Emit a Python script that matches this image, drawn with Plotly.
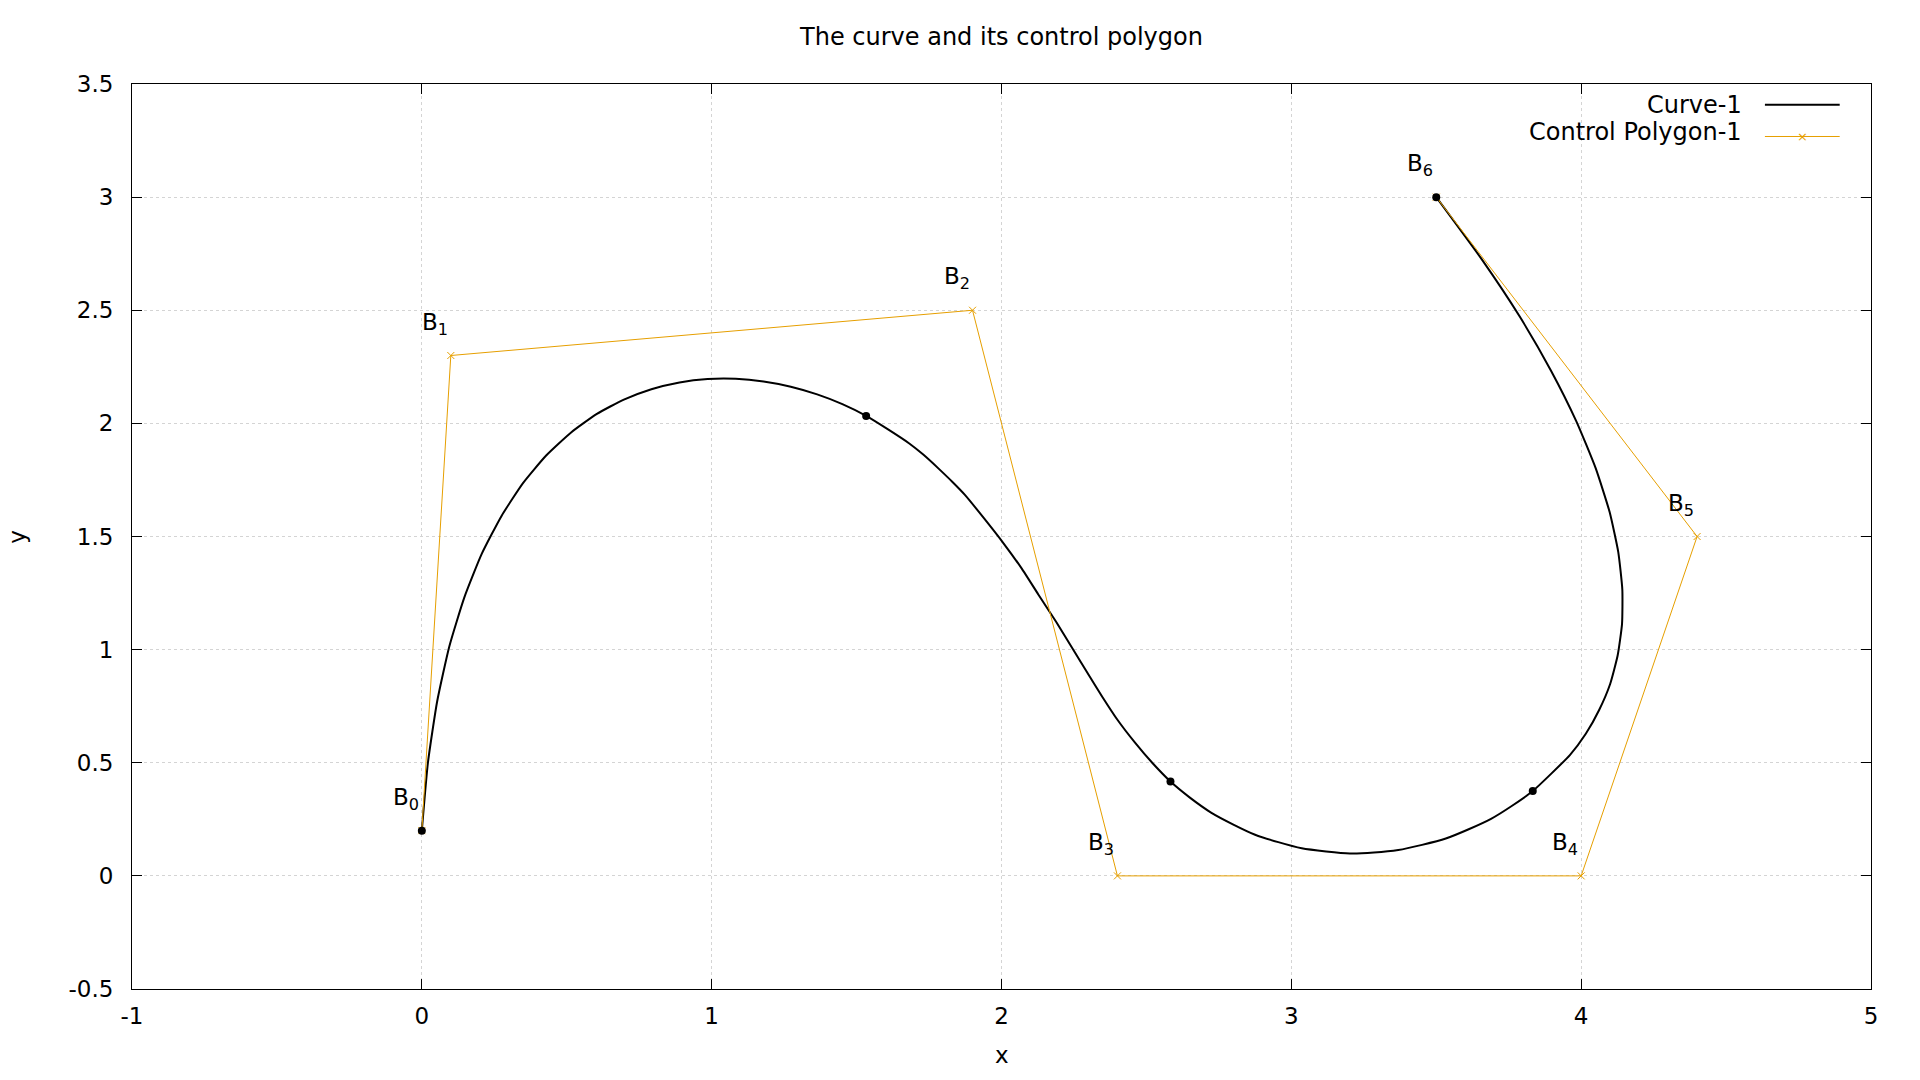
import plotly.graph_objects as go

# ---- data ----
ctrl_x = [0.0, 0.1, 1.9, 2.4, 4.0, 4.4, 3.5]
ctrl_y = [0.2, 2.3, 2.5, 0.0, 0.0, 1.5, 3.0]
ctrl_labels = ["B<sub>0</sub>", "B<sub>1</sub>", "B<sub>2</sub>", "B<sub>3</sub>",
               "B<sub>4</sub>", "B<sub>5</sub>", "B<sub>6</sub>"]

knot_x = [0.0, 1.533, 2.583, 3.833, 3.5]
knot_y = [0.2, 2.033, 0.417, 0.375, 3.0]

curve_x = [0.000, 0.021, 0.053, 0.095, 0.147, 0.207, 0.275, 0.349, 0.429, 0.515,
           0.604, 0.697, 0.792, 0.889, 0.986, 1.083, 1.179, 1.273, 1.364, 1.451,
           1.533, 1.610, 1.683, 1.730, 1.783, 1.830, 1.873, 1.940, 2.007, 2.070,
           2.127, 2.190, 2.245, 2.300, 2.347, 2.400, 2.460, 2.520, 2.583, 2.650,
           2.723, 2.800, 2.875, 2.955, 3.036, 3.120, 3.202, 3.285, 3.369, 3.451,
           3.533, 3.612, 3.689, 3.763, 3.833, 3.961, 4.016, 4.062, 4.100, 4.126,
           4.141, 4.142, 4.128, 4.098, 4.050, 3.983, 3.896, 3.788, 3.656, 3.500]
curve_y = [0.200, 0.500, 0.772, 1.015, 1.232, 1.424, 1.591, 1.736, 1.858, 1.960,
           2.042, 2.105, 2.151, 2.181, 2.196, 2.197, 2.185, 2.162, 2.128, 2.085,
           2.033, 1.972, 1.910, 1.862, 1.800, 1.742, 1.685, 1.580, 1.470, 1.358,
           1.244, 1.120, 1.005, 0.890, 0.793, 0.690, 0.590, 0.500, 0.417, 0.346,
           0.280, 0.227, 0.182, 0.149, 0.122, 0.108, 0.099, 0.103, 0.114, 0.137,
           0.165, 0.206, 0.252, 0.311, 0.375, 0.534, 0.628, 0.733, 0.848, 0.975,
           1.114, 1.266, 1.431, 1.609, 1.802, 2.010, 2.233, 2.472, 2.727, 3.000]

x_tick_vals = [-1, 0, 1, 2, 3, 4, 5]
x_tick_labels = ["-1", "0", "1", "2", "3", "4", "5"]
y_tick_vals = [-0.5, 0, 0.5, 1, 1.5, 2, 2.5, 3, 3.5]
y_tick_labels = ["-0.5", "0", "0.5", "1", "1.5", "2", "2.5", "3", "3.5"]

series_names = ["Curve-1", "Control Polygon-1"]
title_text = "The curve and its control polygon"

ORANGE = "#e69f00"
FONT = "DejaVu Sans"
FS = 23
FS_BIG = 24

fig = go.Figure()
fig.add_trace(go.Scatter(x=curve_x, y=curve_y, mode="lines", name=series_names[0],
                         line=dict(color="black", width=2, shape="spline", smoothing=0.5)))
fig.add_trace(go.Scatter(x=ctrl_x, y=ctrl_y, mode="lines+markers", name=series_names[1],
                         line=dict(color=ORANGE, width=1),
                         marker=dict(symbol="x-thin", size=7,
                                     line=dict(color=ORANGE, width=1), color=ORANGE)))
fig.add_trace(go.Scatter(x=knot_x, y=knot_y, mode="markers", showlegend=False,
                         marker=dict(color="black", size=8)))

for lx, ly, lt in zip(ctrl_x, ctrl_y, ctrl_labels):
    fig.add_annotation(x=lx, y=ly, text=lt, showarrow=False, xref="x", yref="y",
                       xshift=-16, yshift=32, font=dict(size=23, color="black", family=FONT))

axis_common = dict(showline=True, linecolor="black", linewidth=1, mirror="ticks",
                   ticks="inside", ticklen=10, tickcolor="black", tickwidth=1,
                   showgrid=True, gridcolor="#d4d4d4", gridwidth=1, griddash="3px,3px",
                   zeroline=False, tickfont=dict(size=FS, color="black", family=FONT))
fig.update_xaxes(range=[-1, 5], tickvals=x_tick_vals, ticktext=x_tick_labels,
                 ticklabelstandoff=6, **axis_common)
fig.update_yaxes(range=[-0.5, 3.5], tickvals=y_tick_vals, ticktext=y_tick_labels,
                 ticklabelstandoff=13, **axis_common)

# axis titles
fig.add_annotation(x=0.5, y=-0.073, xref="paper", yref="paper", text="x", showarrow=False,
                   font=dict(size=FS, color="black", family=FONT), yanchor="middle")
fig.add_annotation(x=-0.0665, y=0.5, xref="paper", yref="paper", text="y", showarrow=False,
                   textangle=-90, font=dict(size=FS, color="black", family=FONT), xanchor="center")

# gnuplot-style legend (text left, sample right)
fig.add_annotation(x=0.927, y=0.977, xref="paper", yref="paper", text=series_names[0],
                   showarrow=False, xanchor="right", yanchor="middle",
                   font=dict(size=FS_BIG, color="black", family=FONT))
fig.add_annotation(x=0.927, y=0.947, xref="paper", yref="paper", text=series_names[1],
                   showarrow=False, xanchor="right", yanchor="middle",
                   font=dict(size=FS_BIG, color="black", family=FONT))
fig.add_shape(type="line", xref="paper", yref="paper", x0=0.939, x1=0.982, y0=0.977, y1=0.977,
              line=dict(color="black", width=2))
fig.add_shape(type="line", xref="paper", yref="paper", x0=0.939, x1=0.982, y0=0.942, y1=0.942,
              line=dict(color=ORANGE, width=1))
fig.add_annotation(x=0.9605, y=0.942, xref="paper", yref="paper", text="×", showarrow=False,
                   xanchor="center", yanchor="middle", font=dict(size=13, color=ORANGE, family=FONT))

fig.update_layout(
    width=1920, height=1080,
    margin=dict(l=132, r=49, t=84, b=91),
    plot_bgcolor="white", paper_bgcolor="white",
    showlegend=False,
    title=dict(text=title_text, xref="paper", x=0.5, xanchor="center",
               yref="container", y=0.966, yanchor="middle",
               font=dict(size=FS_BIG, color="black", family=FONT)),
    font=dict(family=FONT, color="black"),
)

fig.write_html("out.html", config={"displayModeBar": False},
               post_script="document.body.style.margin='0';")
